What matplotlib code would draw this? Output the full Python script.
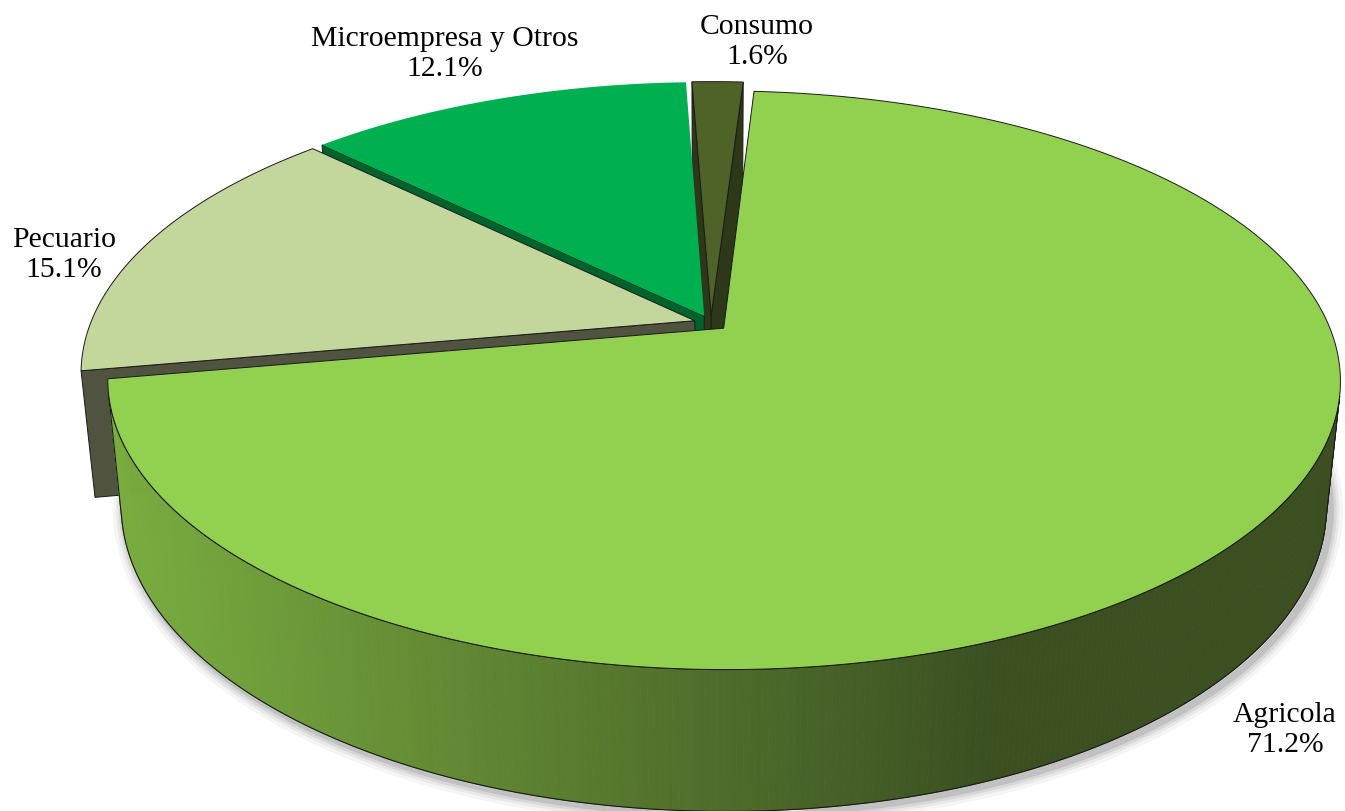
import numpy as np
import matplotlib.pyplot as plt
from matplotlib.patches import Polygon

labels = ['Agricola', 'Pecuario', 'Microempresa y Otros', 'Consumo']
values = [71.2, 15.1, 12.1, 1.6]
top_colors = ['#92D050', '#C3D69B', '#00B050', '#4F6228']
face_colors = ['#3E5A24', '#4F533F', '#00632C', '#2C3817']
# position of the second (percent) line baseline, in pixels
label_pos = [(1285, 752), (64, 277), (445, 76), (757, 64)]

# 3d look: camera elevation, distance, disc thickness, pixel scale
elev = np.radians(27.4)
dist = 4.95
thick = 0.236
scale = 2991
cx, cy = 711, 323
explode = 0.028
first_angle = 86.4

se, ce = np.sin(elev), np.cos(elev)
cam = np.array([0.0, -dist * ce, dist * se])


def proj(x, y, z):
    X = x
    Y = y * se + z * ce
    Z = dist + y * ce - z * se
    return cx + scale * X / Z, cy - scale * Y / Z


def visible(p, n):
    return np.dot(cam - p, n) > 0


def wall_color(px):
    # side wall gets darker from left to right
    t = np.clip((px - 100) / 900, 0, 1)
    a = np.array([0.48, 0.68, 0.25])
    b = np.array([0.23, 0.31, 0.13])
    return a + (b - a) * t


fr = np.array(values) / sum(values)
ends = first_angle - 360 * np.cumsum(fr)
starts = ends + 360 * fr

fig = plt.figure(figsize=(13.45, 8.11), dpi=100)
ax = fig.add_axes([0, 0, 1, 1])
ax.set_xlim(0, 1345)
ax.set_ylim(811, 0)
ax.axis('off')

# soft shadow under the big slice
i = 0
mid = np.radians((starts[i] + ends[i]) / 2)
ox, oy = explode * np.cos(mid), explode * np.sin(mid)
phi = np.radians(np.linspace(-185, 5, 200))
sx, sy = proj(ox + np.cos(phi), oy + np.sin(phi), -thick)
for lw, al in [(18, 0.04), (13, 0.05), (9, 0.07), (5, 0.1)]:
    ax.plot(sx + 4, sy + 3, color='black', lw=lw, alpha=al, zorder=0,
            solid_capstyle='round')

order = [3, 2, 1, 0]
z = 1
for i in order:
    a0, a1 = ends[i], starts[i]
    mid = np.radians((a0 + a1) / 2)
    ox, oy = explode * np.cos(mid), explode * np.sin(mid)

    # radial cut faces
    for ang, sgn in [(a1, 1), (a0, -1)]:
        r = np.radians(ang)
        n = np.array([-np.sin(r), np.cos(r), 0]) * sgn
        pts3 = [(ox, oy, 0), (ox + np.cos(r), oy + np.sin(r), 0),
                (ox + np.cos(r), oy + np.sin(r), -thick), (ox, oy, -thick)]
        centre = np.mean(np.array(pts3), axis=0)
        if visible(centre, n):
            pts = [proj(*p) for p in pts3]
            ax.add_patch(Polygon(pts, closed=True, facecolor=face_colors[i],
                                 edgecolor='#1a1a1a', lw=0.7, zorder=z))
            z += 1

    # outer wall, split in thin strips
    phi = np.radians(np.linspace(a0, a1, max(int(a1 - a0) * 2, 4)))
    vis = []
    for p0, p1 in zip(phi[:-1], phi[1:]):
        pm = (p0 + p1) / 2
        n = np.array([np.cos(pm), np.sin(pm), 0])
        if visible(np.array([ox + np.cos(pm), oy + np.sin(pm), -thick / 2]), n):
            vis.append((p0, p1))
    if vis:
        for p0, p1 in vis:
            xa, ya = proj(ox + np.cos([p0, p1]), oy + np.sin([p0, p1]), 0)
            xb, yb = proj(ox + np.cos([p1, p0]), oy + np.sin([p1, p0]), -thick)
            col = wall_color(xa.mean()) if i == 0 else face_colors[i]
            ax.add_patch(Polygon(np.c_[np.r_[xa, xb], np.r_[ya, yb]],
                                 closed=True, facecolor=col, edgecolor=col,
                                 lw=0.6, zorder=z))
        pw = np.linspace(vis[0][0], vis[-1][1], 200)
        xa, ya = proj(ox + np.cos(pw), oy + np.sin(pw), 0)
        xb, yb = proj(ox + np.cos(pw[::-1]), oy + np.sin(pw[::-1]), -thick)
        ax.add_patch(Polygon(np.c_[np.r_[xa, xb], np.r_[ya, yb]], closed=True,
                             facecolor='none', edgecolor='#1a1a1a', lw=0.8,
                             zorder=z + 1))
        z += 2

    # top face
    pt = np.radians(np.linspace(a0, a1, max(int(a1 - a0) * 2, 4)))
    xt, yt = proj(ox + np.r_[0, np.cos(pt)], oy + np.r_[0, np.sin(pt)], 0)
    edge = 'none' if i == 2 else '#1a1a1a'
    ax.add_patch(Polygon(np.c_[xt, yt], closed=True, facecolor=top_colors[i],
                         edgecolor=edge, lw=0.7, zorder=z))
    z += 1

for lab, v, (tx, ty) in zip(labels, values, label_pos):
    ax.text(tx, ty, f'{lab}\n{v:.1f}%', ha='center', va='baseline',
            fontsize=21.3, family='Liberation Serif', linespacing=1.2,
            zorder=50)

fig.savefig('out.png', dpi=100)
